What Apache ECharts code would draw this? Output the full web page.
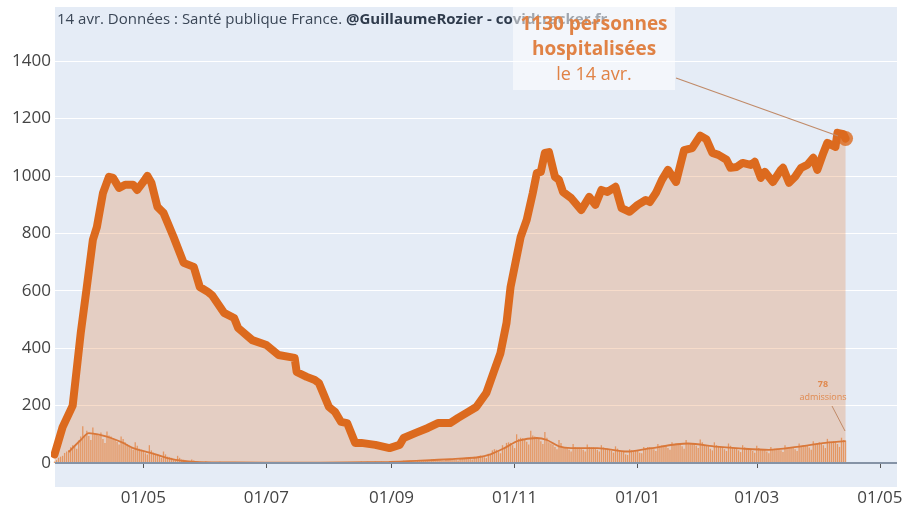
<!DOCTYPE html>
<html>
<head>
<meta charset="utf-8">
<script src="https://cdn.jsdelivr.net/npm/echarts@6.0.0/dist/echarts.min.js"></script>
<style>
  html, body { margin: 0; padding: 0; background: #fff; }
  #chart { width: 907px; height: 509px; }
</style>
</head>
<body>
<div id="chart"></div>
<script>
// personnes hospitalisées (lecture du graphique)
const hospDates = [
  '2020-03-18','2020-03-22','2020-03-27','2020-03-31','2020-04-03','2020-04-06','2020-04-08','2020-04-11',
  '2020-04-14','2020-04-16','2020-04-19','2020-04-22','2020-04-26','2020-04-28','2020-05-01','2020-05-03',
  '2020-05-05','2020-05-08','2020-05-11','2020-05-16','2020-05-21','2020-05-26','2020-05-29','2020-06-02',
  '2020-06-04','2020-06-10','2020-06-15','2020-06-17','2020-06-24','2020-07-01','2020-07-07','2020-07-15',
  '2020-07-16','2020-07-21','2020-07-25','2020-07-27','2020-08-01','2020-08-04','2020-08-07','2020-08-10',
  '2020-08-14','2020-08-17','2020-08-24','2020-08-31','2020-09-05','2020-09-07','2020-09-13','2020-09-19',
  '2020-09-24','2020-09-30','2020-10-04','2020-10-09','2020-10-13','2020-10-18','2020-10-22','2020-10-25',
  '2020-10-28','2020-10-30','2020-11-02','2020-11-04','2020-11-07','2020-11-10','2020-11-12','2020-11-14',
  '2020-11-16','2020-11-18','2020-11-21','2020-11-23','2020-11-25','2020-11-29','2020-12-04','2020-12-08',
  '2020-12-11','2020-12-14','2020-12-17','2020-12-21','2020-12-24','2020-12-28','2021-01-01','2021-01-05',
  '2021-01-07','2021-01-10','2021-01-13','2021-01-16','2021-01-20','2021-01-24','2021-01-28','2021-02-01',
  '2021-02-04','2021-02-07','2021-02-10','2021-02-14','2021-02-16','2021-02-19','2021-02-22','2021-02-26',
  '2021-02-28','2021-03-03','2021-03-05','2021-03-09','2021-03-13','2021-03-14','2021-03-17','2021-03-20',
  '2021-03-23','2021-03-26','2021-03-29','2021-03-31','2021-04-03','2021-04-05','2021-04-09','2021-04-10',
  '2021-04-13','2021-04-14'
];
const hospValues = [
  30,125,200,453,613,777,822,940,
  997,993,958,969,969,951,979,1000,
  976,892,871,787,697,683,613,596,
  585,523,505,470,428,411,376,366,
  317,300,289,279,195,178,143,139,
  70,70,63,52,63,87,105,122,
  139,139,157,178,195,244,324,383,
  488,613,718,787,847,940,1010,1014,
  1080,1083,997,986,944,923,881,927,
  899,951,944,962,888,875,899,916,
  909,940,986,1021,979,1090,1097,1140,
  1128,1080,1073,1056,1028,1031,1045,1038,
  1049,993,1014,979,1021,1028,976,997,
  1028,1038,1063,1021,1080,1115,1101,1150,
  1145,1130
];

// admissions quotidiennes, à partir du 18/03/2020 (une ligne = une semaine)
const admStart = '2020-03-18';
const admissions = [
  5,10,18,22,25,35,40,
  45,55,62,58,50,78,92,
  128,96,112,94,80,124,104,
  102,95,106,84,70,110,96,
  92,86,82,74,64,92,84,
  72,66,60,54,46,72,60,
  50,46,40,34,30,62,44,
  36,32,28,24,18,40,30,
  22,20,18,14,10,25,18,
  12,11,9,7,5,12,9,
  6,5,4,3,2,6,4,
  4,3,3,2,1,4,3,
  3,3,2,2,1,3,2,
  2,3,2,1,1,3,2,
  2,2,2,1,1,2,2,
  2,2,1,1,1,3,2,
  2,1,2,1,0,2,2,
  1,2,1,1,0,2,1,
  1,1,2,1,0,2,1,
  2,1,1,1,0,2,2,
  2,2,2,1,1,3,2,
  3,2,3,2,1,5,3,
  3,4,3,2,2,5,4,
  4,5,4,3,2,6,5,
  5,6,5,4,3,8,6,
  7,8,7,5,4,10,8,
  9,10,9,7,6,13,10,
  10,11,10,8,7,14,12,
  13,14,13,11,9,17,15,
  16,18,16,14,12,22,19,
  24,26,24,20,17,32,28,
  44,48,46,40,34,62,56,
  70,72,70,62,52,100,84,
  88,86,84,74,64,112,96,
  92,90,86,76,66,108,88,
  72,68,64,56,48,80,70,
  56,54,52,46,40,66,56,
  54,54,52,46,40,64,56,
  54,54,50,46,40,62,54,
  50,50,48,42,36,58,50,
  44,42,40,30,28,48,44,
  40,44,42,36,34,56,50,
  56,56,54,48,42,66,60,
  62,62,60,52,46,72,64,
  68,68,64,58,50,80,70,
  70,70,68,60,52,82,72,
  60,60,58,50,44,72,62,
  56,56,54,48,42,68,60,
  52,52,50,44,38,62,54,
  50,50,48,42,36,60,52,
  46,46,44,40,34,56,48,
  50,50,48,44,38,62,54,
  56,56,54,48,42,68,60,
  62,62,60,54,46,76,66,
  70,72,68,62,52,84,74,
  74,76,72,66,56,88,80,
  78
];

// moyenne mobile des admissions (lecture du graphique)
const maDates = [
  '2020-03-25','2020-03-31','2020-04-04','2020-04-10','2020-04-15','2020-04-21','2020-04-26','2020-05-03',
  '2020-05-08','2020-05-13','2020-05-21','2020-05-29','2020-06-15','2020-07-15','2020-08-10','2020-08-31',
  '2020-09-15','2020-09-30','2020-10-14','2020-10-20','2020-10-27','2020-11-03','2020-11-12','2020-11-17',
  '2020-11-23','2020-11-29','2020-12-12','2020-12-27','2021-01-06','2021-01-26','2021-02-09','2021-02-22',
  '2021-03-07','2021-03-21','2021-04-04','2021-04-14'
];
const maValues = [
  38,80,104,97,87,70,52,38,
  28,17,7,3,2,1,2,4,
  8,13,20,30,52,78,87,80,
  58,52,52,40,50,68,57,50,
  46,56,70,76
];

const xTickDates = ['2020-05-01','2020-07-01','2020-09-01','2020-11-01','2021-01-01','2021-03-01','2021-05-01'];
const xTickLabels = ['01/05','01/07','01/09','01/11','01/01','01/03','01/05'];
const yTicks = [0,200,400,600,800,1000,1200,1400];

const DAY = 864e5;
function ts(s) { const p = s.split('-'); return Date.UTC(+p[0], +p[1] - 1, +p[2]); }

const hospData = hospDates.map((d, i) => [ts(d), hospValues[i]]);
const admData = admissions.map((v, i) => [ts(admStart) + i * DAY, v]);
const maData = maDates.map((d, i) => [ts(d), maValues[i]]);
const last = hospData[hospData.length - 1];
const xTickVals = xTickDates.map(ts);

const ORANGE = '#dc6a1e';

const chart = echarts.init(document.getElementById('chart'), null, { renderer: 'canvas' });
chart.setOption({
  animation: false,
  backgroundColor: '#fff',
  textStyle: { fontFamily: 'Open Sans' },
  grid: { left: 55, right: 10, top: 3.6, bottom: 46, show: false },
  xAxis: {
    type: 'value',
    min: ts('2020-05-01') - 43.76 * DAY,
    max: ts('2020-05-01') + 373.5 * DAY,
    offset: 19,
    axisLine: { show: false },
    axisTick: { show: true, length: 5, lineStyle: { color: '#555' }, customValues: xTickVals },
    splitLine: { show: false },
    axisLabel: {
      customValues: xTickVals,
      formatter: v => xTickLabels[xTickVals.indexOf(v)] || '',
      fontSize: 17, color: '#444', margin: 8
    }
  },
  yAxis: {
    type: 'value',
    min: 0, max: 1600, interval: 200,
    axisLine: { show: false },
    axisTick: { show: false },
    splitLine: { lineStyle: { color: '#fff', width: 1 } },
    axisLabel: { fontSize: 17, color: '#444', margin: 4, showMaxLabel: false,
      formatter: v => yTicks.indexOf(v) >= 0 ? String(v) : '' }
  },
  series: [
    {
      name: 'admissions',
      type: 'bar',
      data: admData,
      barWidth: 1.3,
      itemStyle: { color: 'rgba(230,135,70,0.75)' },
      z: 2,
      markLine: {
        silent: true, symbol: 'none', label: { show: false },
        lineStyle: { color: '#8593a6', width: 2, type: 'solid' },
        data: [{ yAxis: 0 }]
      }
    },
    {
      name: 'hospitalisations',
      type: 'line',
      data: hospData,
      showSymbol: false,
      lineStyle: { color: ORANGE, width: 8, join: 'round', cap: 'round' },
      areaStyle: { color: 'rgba(226,125,55,0.38)' },
      z: 3
    },
    {
      name: 'moyenne admissions',
      type: 'line',
      data: maData,
      showSymbol: false,
      smooth: 0.3,
      lineStyle: { color: '#d9783a', width: 1.8 },
      z: 4
    },
    {
      name: 'dernier',
      type: 'scatter',
      data: [last],
      symbolSize: 15,
      itemStyle: { color: ORANGE },
      z: 5
    }
  ],
  graphic: [
    { type: 'rect', z: -1, silent: true, shape: { x: 55, y: 7, width: 842, height: 480 }, style: { fill: '#e5ecf6' } },
    {
      type: 'text', left: 57, top: 12, z: 10,
      style: {
        text: '{a|14 avr. Données : Santé publique France. }{b|@GuillaumeRozier - covidtracker.fr}',
        rich: {
          a: { fontFamily: 'Open Sans', fontSize: 15, fill: '#3a4656' },
          b: { fontFamily: 'Open Sans', fontSize: 15, fontWeight: 'bold', fill: '#2f3b4c' }
        }
      }
    },
    { type: 'rect', z: 11, shape: { x: 513, y: 7, width: 162, height: 83 }, style: { fill: 'rgba(255,255,255,0.55)' } },
    { type: 'text', z: 12, style: { x: 594, y: 25, text: '1130 personnes', textAlign: 'center', textVerticalAlign: 'middle',
        font: 'bold 19px "Open Sans"', fill: '#e08245' } },
    { type: 'text', z: 12, style: { x: 594, y: 50, text: 'hospitalisées', textAlign: 'center', textVerticalAlign: 'middle',
        font: 'bold 19px "Open Sans"', fill: '#e08245' } },
    { type: 'text', z: 12, style: { x: 594, y: 75, text: 'le 14 avr.', textAlign: 'center', textVerticalAlign: 'middle',
        font: '18px "Open Sans"', fill: '#e08245' } },
    { type: 'line', z: 12, shape: { x1: 676, y1: 78, x2: 838, y2: 136 }, style: { stroke: '#c08a68', lineWidth: 1.2 } },
    { type: 'text', z: 12, style: { x: 823, y: 384, text: '78', textAlign: 'center', textVerticalAlign: 'middle',
        font: 'bold 9px "Open Sans"', fill: '#e08a50' } },
    { type: 'text', z: 12, style: { x: 823, y: 397, text: 'admissions', textAlign: 'center', textVerticalAlign: 'middle',
        font: '9px "Open Sans"', fill: '#e08a50' } },
    { type: 'line', z: 12, shape: { x1: 832, y1: 406, x2: 845, y2: 431 }, style: { stroke: '#c08a68', lineWidth: 1 } }
  ]
});
</script>
</body>
</html>
